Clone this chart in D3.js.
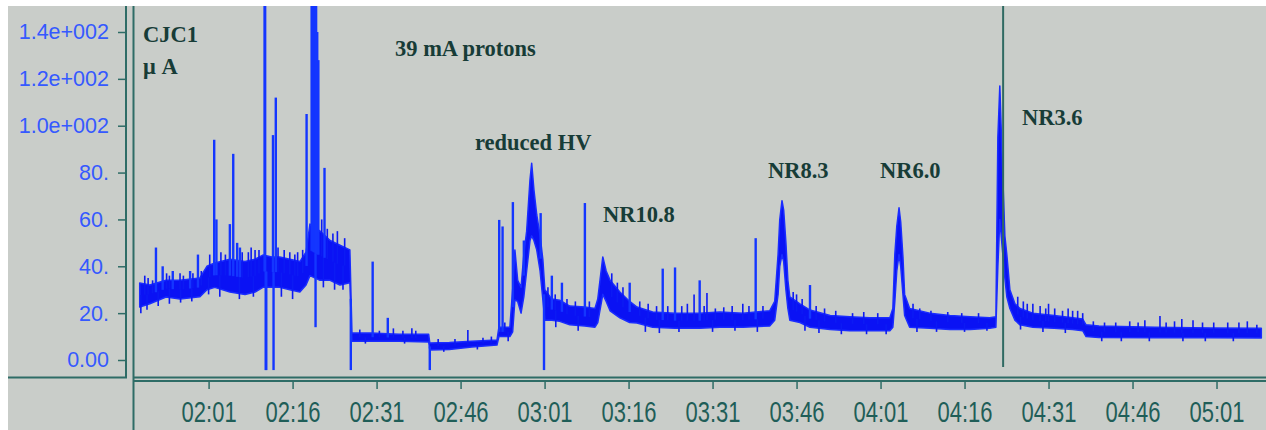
<!DOCTYPE html>
<html><head><meta charset="utf-8">
<script src="https://cdn.jsdelivr.net/npm/d3@7"></script>
<style>html,body{margin:0;padding:0;background:#fff;}svg{display:block;}</style>
</head><body>
<svg id="chart" width="1266" height="430"></svg>
<script>
// ---- data (time in minutes after 00:00, current in µA) ----
const bandT  = [108.7,110.5,113.4,115.9,119.45,120.7,122.1,124.8,127.5,129.3,130.7,132.3,133.7,135.5,137.3,138.4,139.1,140.9,142.7,144.45,146.23,146.6,150,155,160.3,160.5,164,168,172.5,172.85,174.8,175.3,175.7,176.2,176.8,177.3,177.8,178.4,178.7,179.1,179.6,180.2,180.7,181.05,182.3,183.7,185.5,188.2,190.0,190.5,191.4,192.0,192.7,194.45,196.2,197.5,200.3,204.3,208.7,212.3,216.4,221.2,222.1,222.7,223.0,223.4,223.7,224.1,224.45,224.8,226.6,228.4,232,235.5,239,242.66,243.2,243.55,243.9,244.3,244.6,245.0,245.3,246.2,249.8,253.4,257,260.5,261.6,261.95,262.3,262.66,263.2,263.55,264.1,265.0,265.9,268.2,272,275.3,277.1,277.7,280,290,300,309];
const bandLo = [22.6,24,26.9,26,27,30,31,29,28,29,31,31,31,30,29,32,36,34,34,32,33,8,8,8,7.7,4.3,4.5,5.5,6.4,10,10,12,25.6,25,20,27,38,51,53,51,47,38,25.6,17,17,16.5,15,14.5,14,16,28,25,21,18,16,15.8,14,13.6,13.6,14,14,14.5,17,28,40,45,42,30,22,17,16,14,13,12.5,12.5,12.5,14,25,38,45,40,28,19,14,13.5,13,13,13.5,14,40,60,50,35,27,22,17,15,14,13.5,13,12.5,10,9.6,9.5,9.5,9.4];
const bandHi = [32.9,32,34,34,35,40,41.4,43,42,43,44.8,44,44,43,42,46,58,55,51,49,47,11.5,11.5,11,11,7.3,7.5,8,8.5,14,14,30,47,34,31,45,55,77,84,72.6,62,53,42.7,30,26,25.5,23,22.6,22,26,44,38,34,29,25,22.6,20.5,20,20,20.5,20,21,25,45,59.8,68,64,50,34,26.9,24,21.3,19,18.5,18,18,22,45,57,65,59,44,28,22,20,19,18.5,18,18.5,95,117,90,53,45,30,24,22,20,19,18,17.5,15,14.5,14,13.7,13.5];
// isolated spikes (tall)
const spikeT = [111.6,112.8,114.6,117.7,119.1,122.0,122.4,124.8,125.4,126.1,126.6,131.0,131.1,131.2,131.3,132.5,132.6,133.0,138.5,139.4,139.6,139.8,140.0,140.2,140.4,140.1,140.6,141.7,146.4,150.3,153.0,160.5,172.9,173.5,175.34,177.3,180.3,180.9,182.3,184.1,188.2,196.2,202.1,204.3,208.7,218.7,228.4];
const spikeV = [48,40,38,38,45,94,60,58,88,50,48,160,160,-4.3,-4.3,96,-4.3,112,105,160,160,160,160,160,140,14,128,82,-4.3,42,18,-4.3,59.8,57,67.4,51,62.7,-4.3,36,33,67,33,39,39.5,34,52,32];
// small noise excursions
const noiseT = [109.6,110.2,111,113.5,114,115.9,116.5,118.2,119.7,108.9,110,112,114,116,118,
  121.2,123.2,124,127,128.1,128.6,129.3,130,133.4,134.5,135.5,136.4,136.9,137.8,121,123,126.5,129,134,136,
  141.2,142.2,143.2,144,145.3,141.5,143.5,145,
  148,151.5,154,155.7,157.3,158,149,156,162,165,167.3,170,171.5,163,169,173.9,174.5,
  181.6,182.9,185,186.5,189,183,187,
  193,194,195,198,199.5,201,203,205.5,206.5,207.7,209.5,210,211.5,213,214.5,216.4,217.5,220,199,201.5,205,211,215,219,
  225.4,226,227,229.5,231,233,236,238,240.5,227.5,230,234,238.5,242,
  246.8,248,250,253,255.5,258.5,247.5,251,256,260,
  265.5,266.5,267.2,268.2,269.5,270.5,271,272.1,273.5,274.5,275.3,276.2,277.1,266,270,274,
  279,281,283,285.5,287,288.2,290.9,292,293.5,294.8,296.8,298.5,300.5,303,305,306.5,308.2,280.5,284,289,295,299,304];
const noiseV = [36,35,34,37,36,37,36,37,38,20,21.5,23,24,24.5,25,
  45,46,45,46,46,48,47,47,48,47,46,45,46,47,28,27,26,27,27,26,
  60,56,54,55,52,31,30,30,
  13,12.5,13.5,12.5,13.5,12.5,7,7,9,9,12.8,9.5,10,3.5,4.5,16,8,
  31,28,26,25,25,14,12.5,
  37,33,31,25,24,23,23,23,24,28,23,28.6,22,22.5,23,24,23,23,12,11.5,12,12,12.5,12,
  29,28,26,23,22,21,20,20.5,20,12.5,11.5,11,11,11,
  24,22,21,20.5,20,20,12,12,12,12.5,
  27,25,24,24,23,22,24,22,21,22,21,21,20,13,12,11.5,
  16.5,16,16,16.5,16,17,18.8,16,16.5,17.5,17,16,16,16,16,16.5,15,8,8,8,8,8,8];
const cursorT = 262.89;
const yTickVals = [0,20,40,60,80,100,120,140];
const yTickLabels = ["0.00","20.","40.","60.","80.","1.0e+002","1.2e+002","1.4e+002"];
const xTickVals = [121,136,151,166,181,196,211,226,241,256,271,286,301];
const xTickLabels = ["02:01","02:16","02:31","02:46","03:01","03:16","03:31","03:46","04:01","04:16","04:31","04:46","05:01"];
const notes = [
  {t:"CJC1", x:143, y:42},
  {t:"\u03bc A", x:143, y:74},
  {t:"39 mA protons", x:395, y:56},
  {t:"reduced HV", x:475, y:150},
  {t:"NR10.8", x:603, y:222},
  {t:"NR8.3", x:768, y:178},
  {t:"NR6.0", x:880, y:178},
  {t:"NR3.6", x:1022, y:125}
];

// ---- drawing ----
const svg = d3.select("#chart");
const W = 1266, H = 430;
const plot = {l:133, r:1266, t:6, b:377};
const bg = "#c9cdc9", frame = "#2e6c66", trace = "#0a12f4";

svg.append("rect").attr("x",8).attr("y",6).attr("width",W-8).attr("height",H-6).attr("fill",bg);

const x = d3.scaleLinear().domain([107.5, 309.3]).range([133, 1263]);
const y = d3.scaleLinear().domain([0, 140]).range([360, 32]);

svg.append("clipPath").attr("id","clip").append("rect")
  .attr("x",plot.l+1).attr("y",plot.t).attr("width",plot.r-plot.l-1).attr("height",plot.b-plot.t-1);

const g = svg.append("g").attr("clip-path","url(#clip)");

function bandAt(t){
  const i = Math.max(1, Math.min(bandT.length-1, d3.bisectLeft(bandT, t)));
  const t0=bandT[i-1], t1=bandT[i], f=(t-t0)/(t1-t0||1);
  return {lo: bandLo[i-1]+(bandLo[i]-bandLo[i-1])*f, hi: bandHi[i-1]+(bandHi[i]-bandHi[i-1])*f};
}

const band = bandT.map((t,i)=>({t, lo:bandLo[i], hi:bandHi[i]}));
g.append("path").datum(band)
  .attr("d", d3.area().x(d=>x(d.t)).y0(d=>y(d.lo)).y1(d=>y(d.hi)))
  .attr("fill", trace).attr("stroke", "#1a2cff").attr("stroke-width",1.5).attr("stroke-linejoin","round");

function drawSpikes(T, V, cls, w, col){
  const data = T.map((t,i)=>({t, v:V[i]}));
  g.selectAll("line."+cls).data(data).join("line")
    .attr("class",cls)
    .attr("x1",d=>x(d.t)).attr("x2",d=>x(d.t))
    .attr("y1",d=>{const b=bandAt(d.t); return y(d.v>b.hi? (b.lo+b.hi)/2 : (b.lo+b.hi)/2);})
    .attr("y2",d=>y(d.v))
    .attr("stroke",col).attr("stroke-width",w);
}
drawSpikes(noiseT, noiseV, "noise", 1.6, "#0c1af4");
drawSpikes(spikeT, spikeV, "spike", 2.4, "#1436ff");

// cursor line
svg.append("line").attr("x1",x(cursorT)).attr("x2",x(cursorT)).attr("y1",6).attr("y2",367)
  .attr("stroke","#2f6a62").attr("stroke-width",2);

// frames
function hl(x1,x2,yy){svg.append("line").attr("x1",x1).attr("x2",x2).attr("y1",yy).attr("y2",yy).attr("stroke",frame).attr("stroke-width",2);}
function vl(xx,y1,y2){svg.append("line").attr("x1",xx).attr("x2",xx).attr("y1",y1).attr("y2",y2).attr("stroke",frame).attr("stroke-width",2);}
vl(126,6,378); vl(133.5,6,430);
hl(8,127,377.5); hl(133,W,377.5); hl(133,W,381);

// y axis
const ya = svg.append("g").attr("transform","translate(126,0)")
  .call(d3.axisLeft(y).tickValues(yTickVals).tickFormat((d,i)=>yTickLabels[i]).tickSize(8).tickPadding(9));
ya.select(".domain").remove();
ya.selectAll("line").attr("stroke",frame).attr("stroke-width",1.5);
ya.selectAll("text").attr("fill","#3559ff").style("font-family","'Liberation Sans',Arial,sans-serif").style("font-size","21.5px");

// x axis
const xa = svg.append("g").attr("transform","translate(0,381)")
  .call(d3.axisBottom(x).tickValues(xTickVals).tickFormat((d,i)=>xTickLabels[i]).tickSize(8));
xa.select(".domain").remove();
xa.selectAll("line").attr("stroke",frame).attr("stroke-width",1.5);
xa.selectAll("text")
  .attr("y",null).attr("dy",null)
  .attr("transform","translate(0,41) scale(1,1.3)")
  .attr("fill","#1f5e58")
  .style("font-family","'Liberation Sans',Arial,sans-serif").style("font-size","22px");

// annotations
svg.selectAll("text.note").data(notes).join("text").attr("class","note")
  .attr("x",d=>d.x).attr("y",d=>d.y).text(d=>d.t)
  .attr("fill","#173c37")
  .style("font-family","'Liberation Serif','Times New Roman',serif")
  .style("font-weight","bold").style("font-size","22.5px");
</script>
</body></html>
